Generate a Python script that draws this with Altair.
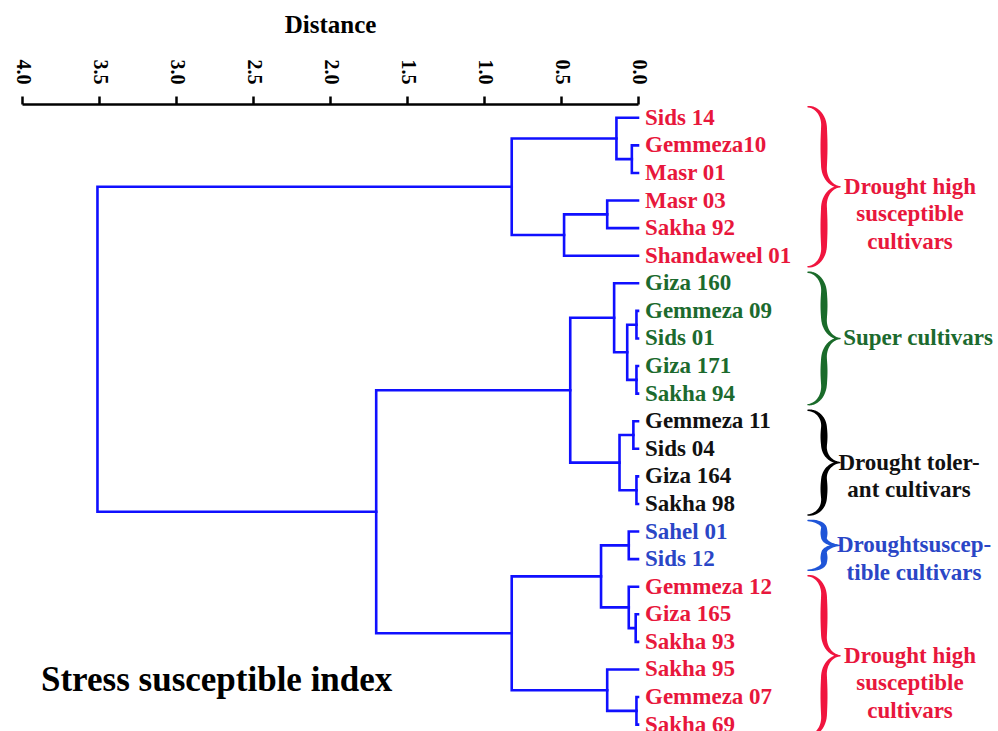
import altair as alt
import numpy as np
import pandas as pd

# ---- data -------------------------------------------------------------
leaves = [
    "Sids 14", "Gemmeza10", "Masr 01", "Masr 03", "Sakha 92", "Shandaweel 01",
    "Giza 160", "Gemmeza 09", "Sids 01", "Giza 171", "Sakha 94",
    "Gemmeza 11", "Sids 04", "Giza 164", "Sakha 98",
    "Sahel 01", "Sids 12",
    "Gemmeza 12", "Giza 165", "Sakha 93", "Sakha 95", "Gemmeza 07", "Sakha 69",
]
leaf_group = [0] * 6 + [1] * 5 + [2] * 4 + [3] * 2 + [4] * 6

# linkage: children a / b (ids >= len(leaves) are earlier merges) and distance
merge_a = [1, 0, 3, 25, 24, 7, 9, 28, 6, 11, 13, 32, 31, 15, 18, 17, 36, 21, 20, 39, 35, 27]
merge_b = [2, 23, 4, 5, 26, 8, 10, 29, 30, 12, 14, 33, 34, 16, 19, 37, 38, 22, 40, 41, 42, 43]
merge_dist = [0.04, 0.14, 0.20, 0.48, 0.82, 0.01, 0.01, 0.07, 0.155, 0.03, 0.01, 0.12,
              0.44, 0.06, 0.015, 0.06, 0.24, 0.01, 0.20, 0.82, 1.70, 3.51]

group_labels = [
    "Drought high\nsusceptible\ncultivars",
    "Super cultivars",
    "Drought toler-\nant cultivars",
    "Droughtsuscep-\ntible cultivars",
    "Drought high\nsusceptible\ncultivars",
]
group_text_color = ["#e8173c", "#1c6a2e", "#111111", "#2a46c6", "#e8173c"]
group_brace_color = ["#f0153f", "#1a6b2a", "#000000", "#1f55d8", "#f0153f"]

tick_values = [0.0, 0.5, 1.0, 1.5, 2.0, 2.5, 3.0, 3.5, 4.0]
title_text = "Stress susceptible index"

# ---- layout -----------------------------------------------------------
FONT = "Liberation Serif"
LINE_BLUE = "#1010ff"
W, H = 616, 627
X_DOMAIN = [0, 4]
Y_DOMAIN = [-0.5, 22.23]
XU = (X_DOMAIN[1] - X_DOMAIN[0]) / W           # distance units per pixel
YP = H / (Y_DOMAIN[1] - Y_DOMAIN[0])           # pixels per leaf step
BRACE_X0 = -170 * XU                           # left end of each brace
GROUP_TEXT_DX = [272, 280, 271, 276, 272]      # label centre offset, px right of 0

xscale = alt.Scale(domain=X_DOMAIN, reverse=True, nice=False, zero=False)
yscale = alt.Scale(domain=Y_DOMAIN, reverse=True, nice=False, zero=False)

# ---- dendrogram links ---------------------------------------------------
n = len(leaves)
node_y = {i: float(i) for i in range(n)}
node_h = {i: 0.0 for i in range(n)}
link_rows = []
for k, (a, b, d) in enumerate(zip(merge_a, merge_b, merge_dist)):
    nid = n + k
    node_y[nid] = (node_y[a] + node_y[b]) / 2
    node_h[nid] = d
    pts = [(node_h[a], node_y[a]), (d, node_y[a]), (d, node_y[b]), (node_h[b], node_y[b])]
    for o, (x, y) in enumerate(pts):
        link_rows.append({"link": k, "order": o, "dist": x, "pos": y})
links = pd.DataFrame(link_rows)

leaf_df = pd.DataFrame({
    "name": leaves,
    "pos": list(range(n)),
    "dist": [0.0] * n,
    "color": [group_text_color[g] for g in leaf_group],
})

# ---- group braces -------------------------------------------------------
brace_rows = []
text_rows = []
for g in range(len(group_labels)):
    idx = [i for i, gg in enumerate(leaf_group) if gg == g]
    first, last = min(idx), max(idx)
    y1, y2, ym = (first - 0.4) * YP, (last + 0.4) * YP, (first + last) / 2 * YP
    half = (y2 - y1) / 2
    r = min(20.0, half * 0.32)
    S, T = 16.0, 32.0
    upper = []
    for u in np.linspace(0, 1, 14):
        th = u * np.pi / 2
        upper.append((S * np.sin(th), y1 + r * (1 - np.cos(th)), 1.4 + 4.4 * u))
    for t in np.linspace(0, 1, 10)[1:-1]:
        upper.append((S, (y1 + r) + t * ((ym - r) - (y1 + r)), 5.8 + 1.2 * np.sin(np.pi * t)))
    for u in np.linspace(0, 1, 14):
        th = u * np.pi / 2
        upper.append((S + (T - S) * (1 - np.cos(th)), ym - r + r * np.sin(th), 5.8 - 4.4 * u))
    lower = [(x, 2 * ym - y, w) for (x, y, w) in reversed(upper[:-1])]
    for o, (x, y, w) in enumerate(upper + lower):
        brace_rows.append({
            "grp": g, "order": o, "bx": BRACE_X0 - x * XU, "by": y / YP,
            "w": w, "color": group_brace_color[g],
        })
    text_rows.append({
        "label": group_labels[g], "tx": -GROUP_TEXT_DX[g] * XU, "ty": ym / YP,
        "color": group_text_color[g],
    })
braces = pd.DataFrame(brace_rows)
group_text = pd.DataFrame(text_rows)

# ---- chart --------------------------------------------------------------
xaxis = alt.Axis(
    orient="top", values=tick_values, format=".1f", grid=False,
    labelAngle=90, labelAlign="right", labelBaseline="middle",
    labelFont=FONT, labelFontWeight="bold", labelFontSize=20, labelColor="black",
    labelPadding=12, labelFlush=False, labelOverlap=False,
    tickSize=8, tickWidth=2.5, tickColor="black",
    domainColor="black", domainWidth=2.5,
    title="Distance", titleFont=FONT, titleFontSize=25, titleFontWeight="bold",
    titleColor="black", titlePadding=22,
)

tree = alt.Chart(links).mark_line(
    color=LINE_BLUE, strokeWidth=2.6, strokeJoin="miter", strokeCap="square"
).encode(
    x=alt.X("dist:Q", scale=xscale, axis=xaxis),
    y=alt.Y("pos:Q", scale=yscale, axis=None),
    detail="link:N",
    order="order:Q",
)

leaf_text = alt.Chart(leaf_df).mark_text(
    align="left", baseline="middle", dx=7, font=FONT, fontSize=23, fontWeight="bold"
).encode(
    x=alt.X("dist:Q", scale=xscale),
    y=alt.Y("pos:Q", scale=yscale),
    text="name:N",
    color=alt.Color("color:N", scale=None),
)

brace = alt.Chart(braces).mark_trail().encode(
    x=alt.X("bx:Q", scale=xscale),
    y=alt.Y("by:Q", scale=yscale),
    size=alt.Size("w:Q", scale=None),
    detail="grp:N",
    order="order:Q",
    color=alt.Color("color:N", scale=None),
)

brace_text = alt.Chart(group_text).mark_text(
    align="center", baseline="middle", font=FONT, fontSize=23, fontWeight="bold",
    lineBreak="\n", lineHeight=27.5,
).encode(
    x=alt.X("tx:Q", scale=xscale),
    y=alt.Y("ty:Q", scale=yscale),
    text="label:N",
    color=alt.Color("color:N", scale=None),
)

index_title = alt.Chart(pd.DataFrame({"t": [title_text]})).mark_text(
    align="left", baseline="alphabetic", font=FONT, fontSize=35, fontWeight="bold",
    color="black",
).encode(
    text="t:N",
    x=alt.value(19),
    y=alt.value(587),
)

chart = alt.layer(tree, leaf_text, brace, brace_text, index_title).properties(
    width=W, height=H,
    autosize=alt.AutoSizeParams(type="none"),
    padding={"left": 22, "top": 104, "right": 360, "bottom": 0},
    background="white",
).configure_view(stroke=None)

chart.save("out.html", embed_options={"renderer": "svg", "actions": False})
